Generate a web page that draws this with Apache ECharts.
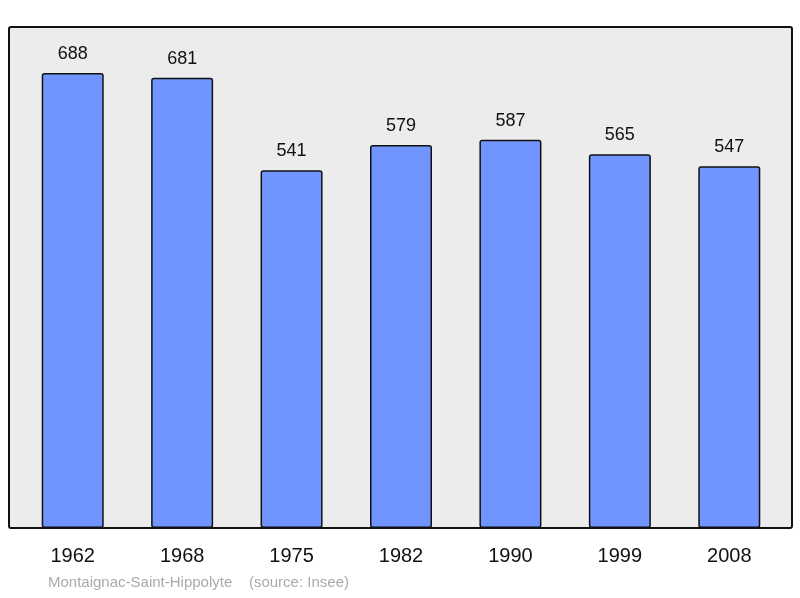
<!DOCTYPE html>
<html>
<head>
<meta charset="utf-8">
<script src="https://cdn.jsdelivr.net/npm/echarts@6/dist/echarts.min.js"></script>
<style>html,body{margin:0;padding:0;background:#fff}#chart{width:800px;height:598px}</style>
</head>
<body>
<div id="chart"></div>
<script>
var years = ["1962", "1968", "1975", "1982", "1990", "1999", "2008"];
var population = [688, 681, 541, 579, 587, 565, 547];
var footer = "Montaignac-Saint-Hippolyte    (source: Insee)";

var chart = echarts.init(document.getElementById("chart"));
chart.setOption({
  animation: false,
  grid: { left: 18, right: 16, top: 27, bottom: 70 },
  graphic: [
    { type: "rect", z: -10, shape: { x: 9, y: 27, width: 783, height: 501, r: 2 },
      style: { fill: "#ececec", stroke: "#111", lineWidth: 2 } },
    { type: "text", left: 48, top: 575,
      style: { text: footer, fill: "#aaaaaa", fontSize: 15, fontFamily: "Liberation Sans, Arial, sans-serif" } }
  ],
  xAxis: {
    type: "category", data: years,
    axisLine: { show: false }, axisTick: { show: false },
    axisLabel: { color: "#111", fontSize: 20, margin: 18, fontFamily: "Liberation Sans, Arial, sans-serif" }
  },
  yAxis: { type: "value", min: 0, max: 757.6, show: false, splitLine: { show: false } },
  series: [{
    type: "bar", data: population, barWidth: 62,
    itemStyle: { color: "#7095ff", borderColor: "#111", borderWidth: 1.5, borderRadius: 2 },
    label: { show: true, position: "top", distance: 10, color: "#111", fontSize: 18,
             fontFamily: "Liberation Sans, Arial, sans-serif" }
  }]
});
</script>
</body>
</html>
